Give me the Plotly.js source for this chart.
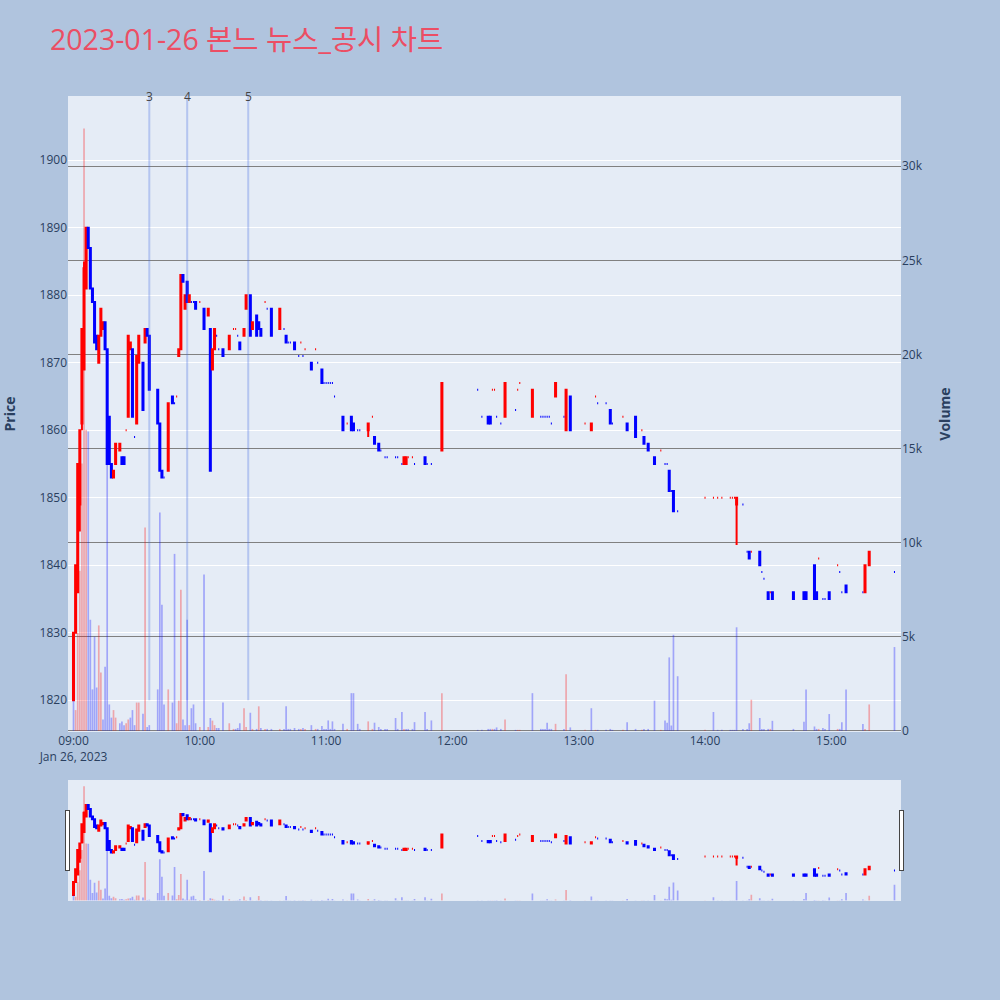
<!DOCTYPE html>
<html><head><meta charset="utf-8">
<script src="https://cdn.plot.ly/plotly-3.0.1.min.js"></script>
<style>body{margin:0;background:#b0c4de;} #chart{width:1000px;height:1000px;}</style>
</head><body><div id="chart"></div>
<script>
const DATE = '2023-01-26';
const times = ['09:00','09:01','09:02','09:03','09:04','09:05','09:06','09:07','09:08','09:09','09:10','09:11','09:12','09:13','09:14','09:15','09:16','09:17','09:18','09:19','09:20','09:22','09:23','09:24','09:25','09:26','09:27','09:28','09:29','09:30','09:31','09:33','09:34','09:35','09:36','09:40','09:41','09:42','09:43','09:45','09:47','09:48','09:49','09:50','09:51','09:52','09:53','09:54','09:55','09:56','09:57','09:58','10:00','10:02','10:04','10:05','10:06','10:07','10:08','10:09','10:11','10:14','10:16','10:17','10:18','10:19','10:21','10:22','10:24','10:25','10:27','10:28','10:29','10:31','10:32','10:34','10:38','10:40','10:41','10:42','10:43','10:45','10:47','10:48','10:49','10:50','10:53','10:55','10:56','10:58','10:59','11:00','11:01','11:02','11:03','11:04','11:08','11:10','11:12','11:13','11:15','11:16','11:20','11:22','11:23','11:25','11:26','11:28','11:29','11:33','11:34','11:36','11:37','11:38','11:39','11:41','11:42','11:47','11:48','11:50','11:55','12:12','12:14','12:17','12:18','12:19','12:20','12:21','12:23','12:25','12:30','12:31','12:32','12:38','12:42','12:43','12:44','12:45','12:46','12:47','12:49','12:53','12:54','12:56','13:03','13:06','13:08','13:09','13:13','13:15','13:16','13:21','13:23','13:27','13:30','13:31','13:33','13:36','13:39','13:41','13:42','13:43','13:44','13:45','13:47','14:00','14:04','14:06','14:08','14:12','14:13','14:14','14:15','14:18','14:20','14:21','14:22','14:26','14:27','14:28','14:30','14:31','14:32','14:42','14:47','14:48','14:52','14:53','14:54','14:56','14:57','14:59','15:03','15:04','15:05','15:07','15:15','15:16','15:18','15:30'];
const opens = [1820,1830,1836,1849,1861,1869,1881,1890,1887,1881,1879,1874,1870,1874,1875,1876,1872,1862,1855,1853,1855,1857,1856,1856,1860,1862,1872,1872,1859,1861,1870,1870,1873,1875,1874,1866,1861,1854,1853,1854,1865,1864,1865,1871,1872,1883,1878,1882,1879,1879,1879,1879,1879,1878,1877,1875,1869,1872,1874,1872,1872,1872,1875,1875,1874,1873,1874,1878,1880,1875,1877,1876,1875,1879,1878,1878,1875,1875,1874,1873,1873,1873,1871,1873,1871,1872,1870,1872,1870,1869,1867,1867,1867,1867,1867,1865,1862,1861,1862,1861,1860,1860,1860,1862,1859,1858,1857,1856,1856,1856,1856,1855,1855,1855,1856,1856,1855,1856,1855,1855,1857,1866,1862,1862,1862,1866,1866,1862,1861,1862,1863,1866,1867,1862,1862,1862,1862,1862,1862,1861,1865,1862,1860,1865,1861,1860,1865,1864,1864,1863,1861,1862,1861,1862,1860,1859,1858,1856,1857,1855,1855,1854,1851,1851,1848,1850,1850,1850,1850,1850,1850,1850,1849,1849,1842,1842,1842,1842,1839,1838,1836,1836,1836,1836,1836,1836,1840,1836,1841,1835,1835,1836,1840,1839,1836,1837,1836,1836,1840,1839];
const highs = [1830,1840,1855,1860,1875,1885,1890,1890,1887,1881,1879,1874,1874,1878,1876,1876,1872,1862,1855,1854,1858,1858,1856,1856,1860,1874,1873,1872,1859,1871,1874,1870,1875,1875,1874,1866,1861,1854,1853,1864,1865,1864,1865,1872,1883,1883,1880,1882,1880,1879,1879,1879,1879,1878,1878,1875,1872,1875,1874,1872,1872,1874,1875,1875,1874,1873,1875,1880,1880,1876,1877,1876,1875,1879,1878,1878,1878,1875,1874,1873,1873,1873,1871,1873,1871,1872,1870,1872,1870,1869,1867,1867,1867,1867,1867,1865,1862,1861,1862,1861,1860,1860,1861,1862,1859,1858,1857,1856,1856,1856,1856,1855,1856,1856,1856,1856,1855,1856,1855,1855,1867,1866,1862,1862,1862,1866,1866,1862,1861,1867,1863,1866,1867,1866,1862,1862,1862,1862,1862,1861,1867,1862,1866,1865,1861,1861,1865,1864,1864,1863,1861,1862,1861,1862,1860,1859,1858,1856,1857,1855,1855,1854,1851,1851,1848,1850,1850,1850,1850,1850,1850,1850,1850,1849,1842,1842,1842,1842,1839,1838,1836,1836,1836,1836,1836,1836,1840,1836,1841,1835,1835,1836,1840,1839,1836,1837,1836,1840,1842,1839];
const lows = [1820,1830,1836,1845,1860,1869,1881,1887,1881,1879,1873,1872,1870,1874,1875,1872,1855,1855,1853,1853,1855,1857,1855,1855,1860,1862,1872,1862,1859,1861,1870,1863,1873,1874,1866,1861,1854,1853,1853,1854,1864,1864,1865,1871,1872,1882,1878,1879,1879,1879,1879,1878,1879,1875,1877,1854,1869,1872,1874,1872,1871,1872,1875,1875,1874,1872,1874,1878,1874,1875,1874,1875,1874,1879,1878,1874,1875,1875,1873,1873,1873,1872,1871,1873,1871,1872,1869,1872,1870,1867,1867,1867,1867,1867,1867,1865,1860,1861,1860,1860,1860,1860,1859,1862,1858,1857,1857,1856,1856,1856,1856,1855,1855,1855,1856,1856,1855,1855,1855,1855,1857,1866,1862,1861,1861,1866,1866,1862,1861,1862,1863,1866,1867,1862,1862,1862,1862,1862,1862,1861,1865,1862,1860,1860,1861,1860,1865,1864,1864,1861,1861,1862,1860,1859,1860,1858,1857,1855,1857,1855,1855,1851,1851,1848,1848,1850,1850,1850,1850,1850,1850,1850,1843,1849,1842,1841,1842,1840,1839,1838,1835,1836,1835,1835,1835,1835,1835,1835,1841,1835,1835,1835,1840,1839,1836,1836,1836,1836,1840,1839];
const closes = [1830,1840,1855,1860,1875,1884,1890,1887,1881,1879,1873,1872,1874,1878,1876,1872,1855,1855,1853,1854,1858,1858,1855,1855,1860,1874,1873,1862,1859,1871,1874,1863,1875,1874,1866,1861,1854,1853,1853,1864,1864,1864,1865,1872,1883,1882,1880,1879,1880,1879,1879,1878,1879,1875,1878,1854,1872,1875,1874,1872,1871,1874,1875,1875,1874,1872,1875,1880,1874,1876,1874,1875,1874,1879,1878,1874,1878,1875,1873,1873,1873,1872,1871,1873,1871,1872,1869,1872,1870,1867,1867,1867,1867,1867,1867,1865,1860,1861,1860,1860,1860,1860,1861,1862,1858,1857,1857,1856,1856,1856,1856,1855,1856,1856,1856,1856,1855,1855,1855,1855,1867,1866,1862,1861,1861,1866,1866,1862,1861,1867,1863,1866,1867,1866,1862,1862,1862,1862,1862,1861,1867,1862,1866,1860,1861,1861,1865,1864,1864,1861,1861,1862,1860,1859,1860,1858,1857,1855,1857,1855,1855,1851,1851,1848,1848,1850,1850,1850,1850,1850,1850,1850,1850,1849,1842,1841,1842,1840,1839,1838,1835,1836,1835,1835,1835,1835,1835,1835,1841,1835,1835,1835,1840,1839,1836,1836,1836,1840,1842,1839];
const volumes = [1600,1100,5200,8500,14200,32000,16000,15900,5900,2200,5000,2300,5600,3100,600,3400,15300,1400,700,1100,700,400,500,300,400,600,700,1100,300,1500,1500,900,10800,200,300,2200,11600,6700,1400,2200,1500,9400,400,1600,7500,600,300,5900,300,1200,1400,400,200,8300,200,680,540,300,150,150,1500,400,100,100,150,400,1200,200,960,100,100,1300,150,100,100,100,100,100,1300,100,100,150,100,100,150,100,300,100,100,250,100,100,550,100,500,100,370,100,2000,2000,370,100,500,100,430,200,100,100,100,680,100,1000,100,100,100,100,460,1000,100,550,2000,50,50,100,100,100,100,180,100,600,50,50,50,2000,100,100,100,430,100,100,370,100,3000,180,50,1200,50,50,50,100,50,50,460,100,50,100,100,1600,50,550,430,3900,280,5100,2900,50,1000,50,50,50,50,50,5500,100,100,400,1650,680,100,100,100,100,530,100,480,2200,230,100,100,150,100,890,100,100,450,2200,360,100,1400,4450];
const newsTimes = ['09:36','09:54','10:23'];
const newsLabels = ['3','4','5'];
const titleText = '2023-01-26 본느 뉴스_공시 차트';
const xStart = '2023-01-26 08:57:23';
const xEnd = '2023-01-26 15:33:06';

const x = times.map(t => DATE + ' ' + t);
const volColors = closes.map((c, i) => (i > 0 && c > closes[i - 1]) ? 'rgba(255,0,0,0.3)' : 'rgba(0,0,255,0.3)');

const candle = {
  type: 'candlestick', x: x, open: opens, high: highs, low: lows, close: closes,
  increasing: {line: {color: 'red', width: 2}, fillcolor: 'red'},
  decreasing: {line: {color: 'blue', width: 2}, fillcolor: 'blue'},
  yaxis: 'y', name: 'Price', showlegend: false
};
const vol = {
  type: 'bar', x: x, y: volumes, marker: {color: volColors}, yaxis: 'y2', name: 'Volume', showlegend: false
};

const shapes = newsTimes.map(t => ({
  type: 'line', xref: 'x', yref: 'y', x0: DATE + ' ' + t, x1: DATE + ' ' + t, y0: 1820, y1: 1909.5,
  line: {color: 'rgba(65,105,225,0.3)', width: 2}
}));
const annotations = newsTimes.map((t, i) => ({
  xref: 'x', yref: 'paper', x: DATE + ' ' + t, y: 1, yanchor: 'middle', xanchor: 'center',
  text: newsLabels[i], showarrow: false, font: {size: 12, color: '#444'}
}));

const layout = {
  width: 1000, height: 1000,
  paper_bgcolor: '#b0c4de', plot_bgcolor: '#e5ecf6',
  margin: {l: 68, r: 99, t: 96, b: 100},
  font: {family: '"Open Sans", "Noto Sans CJK KR", verdana, arial, sans-serif', color: '#2a3f5f', size: 12},
  title: {text: titleText, x: 0.05, xanchor: 'left', y: 0.96, yanchor: 'middle', font: {size: 28.5, color: '#ec4e64'}},
  showlegend: false,
  xaxis: {type: 'date', range: [xStart, xEnd], showgrid: false, zeroline: false,
    rangeslider: {visible: true, range: [xStart, xEnd], bgcolor: '#e5ecf6'}},
  yaxis: {title: {text: '<b>Price</b>', font: {size: 14}, standoff: 20}, range: [1815.3, 1909.5], gridcolor: 'white', zeroline: false},
  yaxis2: {title: {text: '<b>Volume</b>', font: {size: 14}, standoff: 18}, overlaying: 'y', side: 'right', range: [-64, 33730],
    showgrid: true, gridcolor: 'gray', zeroline: false},
  shapes: shapes,
  annotations: annotations
};

Plotly.newPlot('chart', [candle, vol], layout, {displayModeBar: false});
</script>
</body></html>
